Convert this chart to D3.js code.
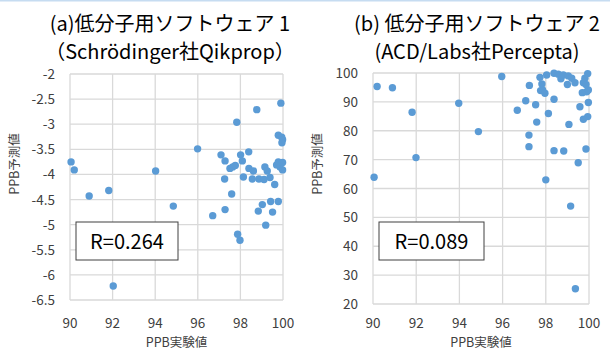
<!DOCTYPE html>
<html>
<head>
<meta charset="utf-8">
<script src="https://cdn.jsdelivr.net/npm/d3@7"></script>
<style>
  body { margin: 0; background: #fff; }
  svg { display: block; font-family: "Noto Sans CJK JP", "Noto Sans", sans-serif; }
</style>
</head>
<body>
<svg id="chart" width="610" height="351"></svg>
<script>
// panel (a) Qikprop: experimental PPB vs predicted value
const qikX = [90.05, 90.2, 90.9, 91.82, 92.03, 94.02, 94.85, 95.99, 96.7, 97.09,
              97.28, 97.26, 97.28, 97.51, 97.64, 97.76, 97.59, 97.83, 97.87, 97.98,
              98.01, 98.09, 98.39, 98.14, 98.4, 98.61, 98.56, 98.77, 98.87, 98.84,
              99.03, 99.11, 99.15, 99.26, 99.39, 99.19, 99.42, 99.51, 99.61, 99.7,
              99.78, 99.78, 99.78, 99.86, 99.9, 99.94, 99.98, 99.95, 99.98, 99.98];
const qikY = [-3.75, -3.91, -4.43, -4.32, -6.22, -3.93, -4.63, -3.49, -4.82, -3.61,
              -3.73, -4.09, -4.70, -3.88, -3.85, -3.82, -4.39, -2.96, -5.19, -5.31,
              -3.61, -3.73, -3.55, -4.05, -3.88, -3.93, -4.09, -2.71, -4.09, -4.73,
              -4.60, -4.10, -3.85, -3.93, -4.06, -5.01, -4.54, -4.75, -4.20, -3.81,
              -3.75, -3.22, -4.54, -3.85, -2.58, -3.26, -3.31, -3.37, -3.76, -3.91];

// panel (b) Percepta
const perX = [90.05, 90.19, 90.9, 91.81, 91.99, 93.97, 94.88, 95.96, 96.68, 97.07,
              97.22, 97.22, 97.24, 97.53, 97.58, 97.73, 97.76, 97.82, 97.85, 97.96,
              98.0, 98.04, 98.12, 98.38, 98.38, 98.38, 98.58, 98.7, 98.81, 98.83,
              99.0, 99.04, 99.07, 99.15, 99.2, 99.35, 99.37, 99.5, 99.58, 99.69,
              99.74, 99.74, 99.81, 99.86, 99.89, 99.94, 99.94, 99.97, 99.97, 99.86];
const perY = [63.9, 95.3, 94.9, 86.4, 70.7, 89.5, 79.7, 98.8, 87.1, 90.4,
              78.5, 74.5, 95.7, 89.0, 83.0, 98.5, 93.9, 96.2, 94.1, 93.0,
              63.0, 99.3, 86.0, 99.9, 90.9, 73.1, 99.6, 98.0, 99.3, 73.0,
              96.0, 99.0, 82.2, 53.9, 98.2, 96.6, 25.3, 68.9, 88.3, 93.2,
              96.6, 84.0, 98.2, 73.7, 93.5, 99.8, 84.9, 94.1, 89.8, 96.0];

const xTicks = [90, 92, 94, 96, 98, 100];
const qikTicks = [-2, -2.5, -3, -3.5, -4, -4.5, -5, -5.5, -6, -6.5];
const perTicks = [100, 90, 80, 70, 60, 50, 40, 30, 20];

const panels = [
  { title: ["(a)低分子用ソフトウェア 1", "（Schrödinger社Qikprop）"], xs: qikX, ys: qikY,
    yTicks: qikTicks, yDomain: [-6.5, -2], r: "R=0.264",
    left: 70, right: 283, top: 74, bottom: 300, titleX: 170, boxW: 102 },
  { title: ["(b) 低分子用ソフトウェア 2", "(ACD/Labs社Percepta)"], xs: perX, ys: perY,
    yTicks: perTicks, yDomain: [20, 100], r: "R=0.089",
    left: 373, right: 589, top: 73, bottom: 304, titleX: 477, boxW: 105 }
];

const svg = d3.select("#chart");

svg.append("rect")
  .attr("x", 0).attr("y", 0)
  .attr("width", 610).attr("height", 1.5)
  .attr("fill", "#c6dcf1");

panels.forEach(p => {
  const x = d3.scaleLinear().domain([90, 100]).range([p.left, p.right]);
  const y = d3.scaleLinear().domain(p.yDomain).range([p.bottom, p.top]);
  const g = svg.append("g");

  g.selectAll("text.title")
    .data(p.title)
    .enter().append("text")
    .attr("x", p.titleX)
    .attr("y", (d, i) => 31 + i * 28)
    .attr("text-anchor", "middle")
    .attr("font-size", 20)
    .attr("fill", "#000")
    .text(d => d);

  // gridlines
  g.selectAll("line.vg")
    .data(xTicks)
    .enter().append("line")
    .attr("x1", d => x(d)).attr("x2", d => x(d))
    .attr("y1", p.top).attr("y2", p.bottom)
    .attr("stroke", "#d9d9d9").attr("stroke-width", 1.3);

  g.selectAll("line.hg")
    .data(p.yTicks)
    .enter().append("line")
    .attr("x1", p.left).attr("x2", p.right)
    .attr("y1", d => y(d)).attr("y2", d => y(d))
    .attr("stroke", "#d9d9d9").attr("stroke-width", 1.3);

  // tick labels
  g.selectAll("text.xt")
    .data(xTicks)
    .enter().append("text")
    .attr("x", d => x(d))
    .attr("y", 328)
    .attr("text-anchor", "middle")
    .attr("font-size", 13.5)
    .attr("fill", "#404040")
    .text(d => d);

  g.selectAll("text.yt")
    .data(p.yTicks)
    .enter().append("text")
    .attr("x", p.left - 15)
    .attr("y", d => y(d) + 5)
    .attr("text-anchor", "end")
    .attr("font-size", 13.5)
    .attr("fill", "#404040")
    .text(d => d);

  g.append("text")
    .attr("x", (p.left + p.right) / 2)
    .attr("y", 347)
    .attr("text-anchor", "middle")
    .attr("font-size", 12.5)
    .attr("fill", "#404040")
    .text("PPB実験値");

  g.append("text")
    .attr("transform", `translate(${p.left - 51},164) rotate(-90)`)
    .attr("text-anchor", "middle")
    .attr("font-size", 12.5)
    .attr("fill", "#404040")
    .text("PPB予測値");

  // correlation box
  g.append("rect")
    .attr("x", p.left + 6).attr("y", 222)
    .attr("width", p.boxW).attr("height", 38)
    .attr("fill", "#fff")
    .attr("stroke", "#404040").attr("stroke-width", 1);

  g.append("text")
    .attr("x", p.left + 6 + p.boxW / 2)
    .attr("y", 248.5)
    .attr("text-anchor", "middle")
    .attr("font-size", 20)
    .attr("fill", "#000")
    .text(p.r);

  g.selectAll("circle")
    .data(d3.zip(p.xs, p.ys))
    .enter().append("circle")
    .attr("cx", d => x(d[0]))
    .attr("cy", d => y(d[1]))
    .attr("r", 3.7)
    .attr("fill", "#5b9bd5");
});
</script>
</body>
</html>
